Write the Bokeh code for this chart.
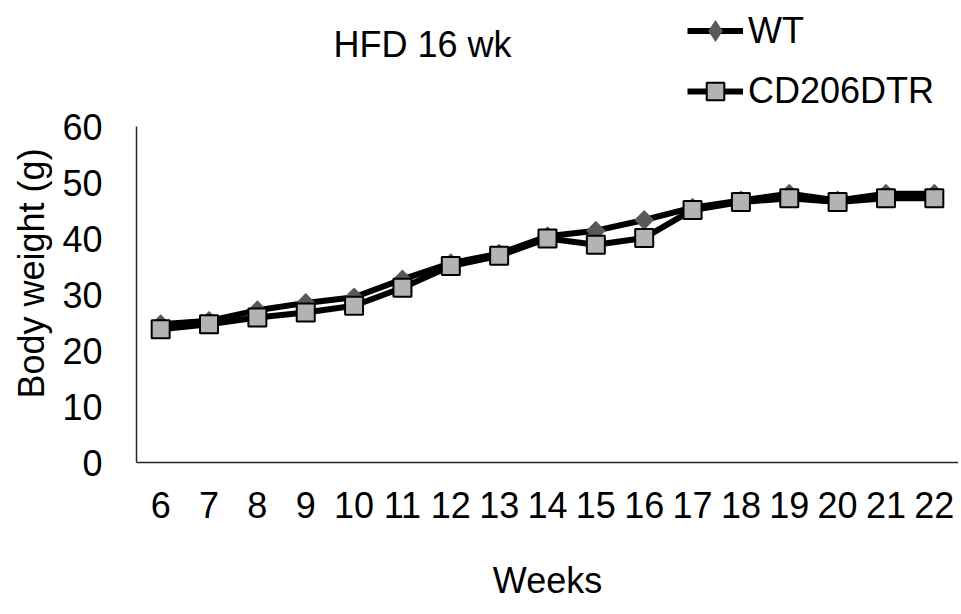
import numpy as np
from bokeh.plotting import figure
from bokeh.models import (ColumnDataSource, FactorRange, Range1d, FixedTicker,
                          Legend, LegendItem, Title, Label)
from bokeh.embed import file_html
from bokeh.resources import INLINE

# ---- data ----
weeks = [str(w) for w in range(6, 23)]
wt = [24.7, 25.3, 27.2, 28.5, 29.5, 32.7, 35.6, 37.3, 40.4, 41.4, 43.3,
      45.5, 46.8, 48.0, 46.8, 48.0, 48.0]
cd206dtr = [23.8, 24.7, 25.9, 26.8, 28.0, 31.2, 35.1, 36.9, 40.0, 38.9, 40.1,
            45.1, 46.5, 47.2, 46.5, 47.2, 47.2]
y_ticks = [0, 10, 20, 30, 40, 50, 60]
series_names = ["WT", "CD206DTR"]
title_text = "HFD 16 wk"
x_label = "Weeks"
y_label = "Body weight (g)"

FONT = "Liberation Sans"
FS = "36px"

# frame spans the full height above the x axis so the legend/title (drawn
# inside it) are not clipped; the y axis itself is bounded to 0..60
Y_MAX = 60
FRAME_TOP_EXTRA = 462 / 336  # plot area 0..60 sits in the lower 336 px of 462

src = ColumnDataSource(dict(week=weeks, wt=wt, cd=cd206dtr))

p = figure(width=958, height=606, output_backend="svg", toolbar_location=None,
           x_range=FactorRange(*weeks, range_padding=0),
           y_range=Range1d(0, Y_MAX * FRAME_TOP_EXTRA),
           min_border_left=136, min_border_right=0,
           min_border_top=0, min_border_bottom=144)
# a range that puts its glyphs outside the frame: used only for a legend swatch
p.extra_y_ranges = {"swatch": Range1d(1000, 2000)}
p.outline_line_color = None
p.background_fill_color = "white"
p.border_fill_color = "white"
p.xgrid.grid_line_color = None
p.ygrid.grid_line_color = None
p.title.visible = False

# axes
for ax in (p.xaxis[0], p.yaxis[0]):
    ax.axis_line_color = "#262626"
    ax.axis_line_width = 1.5
    ax.major_tick_line_color = None
    ax.minor_tick_line_color = None
    ax.major_tick_out = 0
    ax.major_tick_in = 0
    ax.major_label_text_font = FONT
    ax.major_label_text_font_size = FS
    ax.major_label_text_color = "black"

p.yaxis.ticker = FixedTicker(ticks=y_ticks)
p.yaxis.bounds = (0, Y_MAX)
p.yaxis.major_label_standoff = 34
p.xaxis.major_label_standoff = 29
p.xaxis.axis_label = x_label
p.xaxis.axis_label_text_font = FONT
p.xaxis.axis_label_text_font_size = FS
p.xaxis.axis_label_text_font_style = "normal"
p.xaxis.axis_label_text_color = "black"
p.xaxis.axis_label_standoff = 39

# y label as a left-side title so it can be shifted like the reference
ylab = Title(text=y_label, align="left", offset=64, text_font=FONT,
             text_font_size=FS, text_font_style="normal", text_color="black",
             standoff=15)
p.add_layout(ylab, "left")

# main title
p.add_layout(Label(x=286, y=418, x_units="screen", y_units="screen",
                   text=title_text, text_align="center",
                   text_baseline="middle", text_font=FONT,
                   text_font_size=FS, text_color="black"))

# series
l1 = p.line("week", "wt", source=src, line_color="black", line_width=6,
            line_join="round")
m1 = p.scatter("week", "wt", source=src, marker="square", size=14,
               angle=np.pi / 4, fill_color="#595959", line_color=None)
l2 = p.line("week", "cd", source=src, line_color="black", line_width=6,
            line_join="round")
m2 = p.scatter("week", "cd", source=src, marker="square", size=18,
               fill_color="#b3b3b3", line_color="black", line_width=2)

# legend swatch for WT (legends draw markers unrotated, so use a diamond
# marker mapped to an off-frame range so it only shows in the legend)
wt_swatch = p.scatter("week", "wt", source=src, y_range_name="swatch",
                      marker="diamond", size=22,
                      fill_color="#595959", line_color=None)

common = dict(orientation="vertical", glyph_width=56, label_standoff=5,
              padding=0, margin=0, border_line_color=None,
              background_fill_alpha=0, label_text_font=FONT,
              label_text_font_size=FS, label_text_color="black")

legend_wt = Legend(items=[LegendItem(label=series_names[0],
                                     renderers=[l1, wt_swatch])],
                   location=(551, 404), glyph_height=55, label_height=55,
                   **common)
legend_cd = Legend(items=[LegendItem(label=series_names[1],
                                     renderers=[l2, m2])],
                   location=(551, 349), glyph_height=44, label_height=44,
                   **common)
p.add_layout(legend_wt, "center")
p.add_layout(legend_cd, "center")

open("out.html", "w").write(file_html(p, INLINE))
